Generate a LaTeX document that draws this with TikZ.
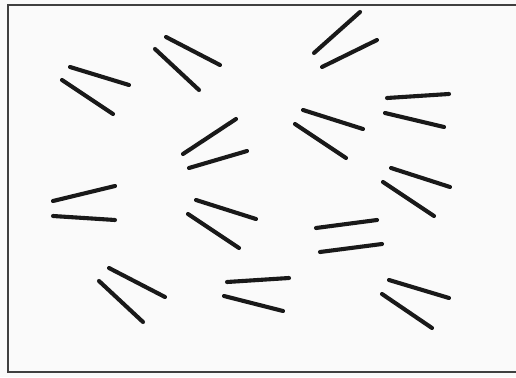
\documentclass[tikz,border=0pt]{standalone}
\begin{document}
\begin{tikzpicture}[x=1pt,y=-1pt,
  stroke/.style={line width=4.1pt,color=black!90,line cap=round},
  frame/.style={line width=2.8pt,color=black!75}]
\fill[black!2] (0,0) rectangle (516,377);
\useasboundingbox (0,0) rectangle (516,377);
\draw[frame] (530,5) -- (8,5) -- (8,372) -- (530,372);
% pairs of strokes
\draw[stroke] (70,67) -- (129,85);
\draw[stroke] (62,80) -- (113,114);
\draw[stroke] (166,37) -- (220,65);
\draw[stroke] (155,49) -- (199,90);
\draw[stroke] (183,154) -- (236,119);
\draw[stroke] (189,168) -- (247,151);
\draw[stroke] (314,53) -- (360,12);
\draw[stroke] (322,67) -- (377,40);
\draw[stroke] (387,98) -- (449,94);
\draw[stroke] (385,113) -- (444,127);
\draw[stroke] (303,110) -- (363,129);
\draw[stroke] (295,124) -- (346,158);
\draw[stroke] (391,168) -- (450,187);
\draw[stroke] (383,182) -- (434,216);
\draw[stroke] (53,201) -- (115,186);
\draw[stroke] (53,216) -- (115,220);
\draw[stroke] (196,200) -- (256,219);
\draw[stroke] (188,214) -- (239,248);
\draw[stroke] (109,268) -- (165,297);
\draw[stroke] (99,281) -- (143,322);
\draw[stroke] (227,282) -- (289,278);
\draw[stroke] (224,296) -- (283,311);
\draw[stroke] (316,228) -- (377,220);
\draw[stroke] (320,252) -- (382,244);
\draw[stroke] (389,280) -- (449,298);
\draw[stroke] (382,294) -- (432,328);
\end{tikzpicture}
\end{document}
